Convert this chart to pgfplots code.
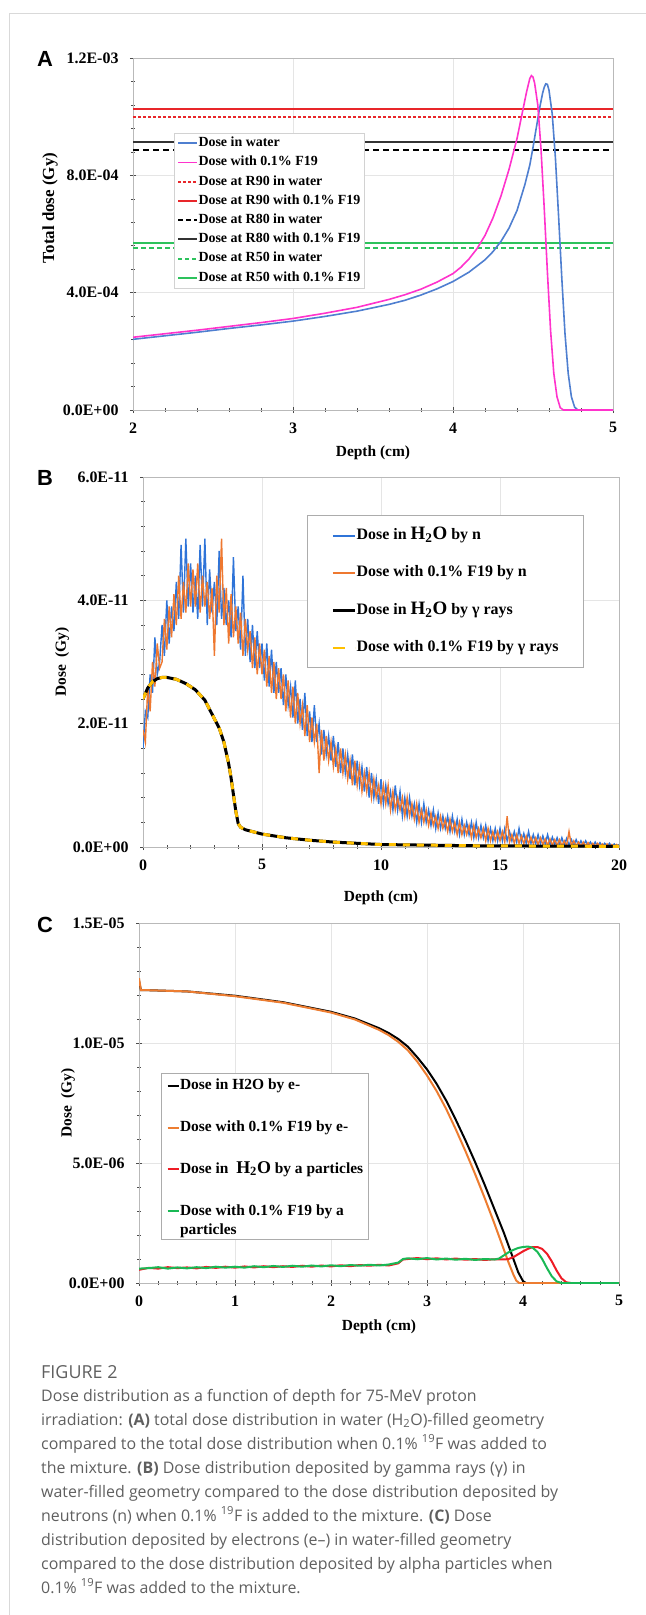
\documentclass[border=0pt]{standalone}
\usepackage{fontspec}
\setmainfont{Liberation Serif}
\newfontfamily\capfont{Open Sans}
\newfontfamily\panelfont{Liberation Sans}
\usepackage{pgfplots}
\pgfplotsset{compat=1.18}
\usepackage{pgfplotstable}

\definecolor{ablue}{HTML}{4F7FD0}
\definecolor{amag}{HTML}{FF33CC}
\definecolor{ared}{HTML}{E8262A}
\definecolor{agreen}{HTML}{2DC25C}
\definecolor{agrey}{HTML}{333333}
\definecolor{bblue}{HTML}{2F74D8}
\definecolor{borange}{HTML}{EE7830}
\definecolor{byellow}{HTML}{FFC000}
\definecolor{corange}{HTML}{ED7D31}
\definecolor{cred}{HTML}{EE1C25}
\definecolor{cgreen}{HTML}{19B955}
\definecolor{capgrey}{HTML}{5F5F5F}

\newcommand\fs[2]{\fontsize{#1}{#2}\selectfont}

% panel B: neutron dose, x in cm, dose in 1e-11 Gy (b = H2O, o = 0.1% F19)
\pgfplotstableread{
x b o
0.0 1.6 1.9
0.1 2.2 1.7
0.2 2.1 2.6
0.3 2.8 2.2
0.4 2.5 3.0
0.5 3.4 2.6
0.6 2.8 3.3
0.7 3.0 2.9
0.8 3.6 3.0
0.9 3.1 3.7
1.0 4.0 3.2
1.1 3.3 3.9
1.2 3.9 3.4
1.3 3.5 4.1
1.4 4.3 3.6
1.5 3.7 4.4
1.6 4.9 3.7
1.7 3.8 4.3
1.8 5.0 3.8
1.9 3.9 4.6
2.0 4.6 3.9
2.1 3.8 4.5
2.2 4.4 3.9
2.3 3.7 4.6
2.4 4.9 3.8
2.5 3.9 4.4
2.6 5.0 3.9
2.7 3.6 4.3
2.8 4.5 3.7
2.9 3.8 4.2
3.0 4.3 3.1
3.1 3.6 4.4
3.2 4.8 3.8
3.3 3.7 5.0
3.4 4.2 3.6
3.5 3.6 4.2
3.6 4.0 3.3
3.7 3.4 4.1
3.8 4.7 3.4
3.9 3.5 3.9
4.0 3.9 3.3
4.1 3.2 3.8
4.2 4.4 3.1
4.3 3.1 3.7
4.4 3.7 3.2
4.5 3.0 3.5
4.6 3.6 2.9
4.7 2.9 3.4
4.8 3.5 2.8
4.9 2.9 3.3
5.0 3.3 2.8
5.1 2.7 3.2
5.2 3.3 2.6
5.3 2.6 3.1
5.4 3.2 2.5
5.5 2.5 3.0
5.6 3.0 2.4
5.7 2.5 2.9
5.8 2.9 2.4
5.9 2.3 2.8
6.0 2.8 2.2
6.1 2.3 2.7
6.2 2.6 2.1
6.3 2.1 2.6
6.4 2.7 2.0
6.5 2.0 2.5
6.6 2.4 2.0
6.7 1.9 2.3
6.8 2.5 1.8
6.9 1.8 2.3
7.0 2.2 1.7
7.1 1.7 2.1
7.2 2.3 1.7
7.3 1.7 2.0
7.4 2.0 1.2
7.5 1.5 1.9
7.6 1.9 1.4
7.7 1.5 1.8
7.8 1.8 1.4
7.9 1.4 1.7
8.0 1.8 1.3
8.1 1.3 1.6
8.2 1.7 1.2
8.3 1.2 1.6
8.4 1.6 1.2
8.5 1.2 1.5
8.6 1.5 1.1
8.7 1.1 1.4
8.8 1.5 1.0
8.9 1.0 1.4
9.0 1.4 1.0
9.1 1.0 1.3
9.2 1.3 0.9
9.3 0.9 1.2
9.4 1.3 0.9
9.5 0.8 1.2
9.6 1.2 0.8
9.7 0.8 1.1
9.8 1.1 0.8
9.9 0.7 1.0
10.0 1.1 0.7
10.1 0.7 1.0
10.2 1.0 0.7
10.3 0.7 1.0
10.4 0.9 0.6
10.5 0.6 0.9
10.6 1.0 0.6
10.7 0.6 0.8
10.8 0.9 0.6
10.9 0.5 0.8
11.0 0.8 0.5
11.1 0.5 0.8
11.2 0.8 0.5
11.3 0.5 0.7
11.4 0.7 0.45
11.5 0.4 0.7
11.6 0.7 0.4
11.7 0.4 0.6
11.8 0.7 0.4
11.9 0.4 0.6
12.0 0.6 0.35
12.1 0.35 0.55
12.2 0.6 0.35
12.3 0.3 0.5
12.4 0.55 0.3
12.5 0.3 0.5
12.6 0.5 0.3
12.7 0.3 0.45
12.8 0.5 0.25
12.9 0.25 0.45
13.0 0.5 0.25
13.1 0.25 0.4
13.2 0.45 0.2
13.3 0.2 0.4
13.4 0.45 0.2
13.5 0.2 0.35
13.6 0.4 0.2
13.7 0.2 0.35
13.8 0.4 0.15
13.9 0.15 0.35
14.0 0.4 0.15
14.1 0.15 0.3
14.2 0.35 0.15
14.3 0.15 0.3
14.4 0.35 0.1
14.5 0.1 0.3
14.6 0.3 0.1
14.7 0.1 0.25
14.8 0.3 0.1
14.9 0.1 0.25
15.0 0.3 0.1
15.1 0.1 0.25
15.2 0.3 0.08
15.3 0.1 0.5
15.4 0.25 0.08
15.5 0.1 0.2
15.6 0.25 0.06
15.7 0.08 0.2
15.8 0.3 0.06
15.9 0.08 0.18
16.0 0.22 0.05
16.1 0.06 0.18
16.2 0.25 0.05
16.3 0.06 0.16
16.4 0.2 0.05
16.5 0.05 0.15
16.6 0.2 0.04
16.7 0.05 0.15
16.8 0.18 0.04
16.9 0.05 0.13
17.0 0.2 0.03
17.1 0.04 0.13
17.2 0.16 0.03
17.3 0.04 0.12
17.4 0.15 0.03
17.5 0.03 0.12
17.6 0.15 0.02
17.7 0.03 0.1
17.8 0.14 0.02
17.9 0.03 0.25
18.0 0.12 0.02
18.1 0.02 0.1
18.2 0.12 0.02
18.3 0.02 0.08
18.4 0.1 0.01
18.5 0.02 0.08
18.6 0.1 0.01
18.7 0.02 0.07
18.8 0.08 0.01
18.9 0.01 0.06
19.0 0.08 0.01
19.1 0.01 0.06
19.2 0.07 0.01
19.3 0.01 0.05
19.4 0.06 0.0
19.5 0.01 0.05
19.6 0.06 0.0
19.7 0.0 0.04
19.8 0.05 0.0
19.9 0.0 0.04
20.0 0.04 0.0
}\ntab

% panel B: gamma dose (same in both media), 1e-11 Gy
\pgfplotstableread{
x g
0.0 2.40
0.2 2.58
0.4 2.68
0.6 2.73
0.8 2.75
1.0 2.75
1.4 2.72
1.8 2.65
2.2 2.55
2.6 2.38
3.0 2.08
3.2 1.93
3.4 1.70
3.6 1.35
3.7 1.12
3.8 0.85
3.9 0.58
4.0 0.38
4.1 0.32
4.3 0.28
4.6 0.25
5.0 0.21
5.5 0.18
6.0 0.15
7.0 0.11
8.0 0.08
9.0 0.06
10 0.04
12 0.03
14 0.02
17 0.015
20 0.01
}\gtab

\pgfplotsset{
  panel/.style={
    scale only axis, anchor=north west,
    axis line style={draw=gray!55, line width=0.8bp},
    grid=major, major grid style={draw=gray!20, line width=0.8bp},
    xtick pos=bottom, ytick pos=left,
    tick align=center, major tick length=6bp, minor tick length=4bp,
    tick style={draw=gray!60!black, line width=0.6bp},
    minor x tick num=4, minor y tick num=4,
    tick label style={font=\bfseries\fs{16}{16}},
    xticklabel style={yshift=-6bp},
    yticklabel style={xshift=-8bp},
    /pgf/number format/assume math mode=true,
    legend cell align=left,
    xlabel style={font=\bfseries\fs{15.5}{16}, anchor=center},
    ylabel style={font=\bfseries\fs{15.5}{16}, anchor=center},
  },
  % legend sample for the two-line entry: line level with the first text line
  twoline/.style={legend image code/.code={\draw[##1] (0bp,8.5bp) -- (11bp,8.5bp); \path (0bp,-8.5bp);}},
}

\begin{document}
\begin{tikzpicture}
\path[use as bounding box] (0,0) rectangle (646bp,-1615bp);
\draw[gray!30, line width=1bp] (9bp,-1615bp) -- (9bp,-13bp) -- (646bp,-13bp);

\node[font=\panelfont\bfseries\fs{22}{22}] at (45bp,-59bp) {A};
\node[font=\panelfont\bfseries\fs{22}{22}] at (45bp,-478bp) {B};
\node[font=\panelfont\bfseries\fs{22}{22}] at (45bp,-925bp) {C};

% ---------- A ----------
\begin{axis}[panel, at={(133bp,-58bp)}, width=480bp, height=352bp,
  xmin=2, xmax=5, ymin=0, ymax=12, xtick={2,3,4,5},
  ytick={0,4,8,12}, yticklabels={0.0E+00,4.0E-04,8.0E-04,1.2E-03},
  xlabel={Depth (cm)}, ylabel={Total dose (Gy)},
  xlabel style={at={(axis description cs:0.5,-0.122)}},
  ylabel style={at={(axis description cs:-0.173,0.574)}, font=\bfseries\fs{17}{17}},
  legend style={at={(0.085,0.787)}, anchor=north west, draw=gray!35, fill=white,
    inner xsep=3bp, inner ysep=1bp, row sep=1.3bp, font=\bfseries\fs{14}{17},
    nodes={inner sep=0.5bp, text depth=}},
  legend image code/.code={\draw[#1] (0bp,0bp) -- (19bp,0bp);},
]
\addplot[forget plot, ared, line width=2bp, dash pattern=on 2.5bp off 2.5bp] coordinates {(2,10.0) (5,10.0)};
\addplot[forget plot, ared, line width=2bp] coordinates {(2,10.26) (5,10.26)};
\addplot[forget plot, black, line width=2bp, dash pattern=on 6bp off 4bp] coordinates {(2,8.85) (5,8.85)};
\addplot[forget plot, agrey, line width=2bp] coordinates {(2,9.12) (5,9.12)};
\addplot[forget plot, agreen, line width=2bp, dash pattern=on 5bp off 3bp] coordinates {(2,5.52) (5,5.52)};
\addplot[forget plot, agreen, line width=2bp] coordinates {(2,5.69) (5,5.69)};
\addplot[forget plot, ablue, line width=1.6bp] coordinates {
 (2.0,2.41)(2.2,2.53)(2.4,2.65)(2.6,2.78)(2.8,2.90)(3.0,3.03)(3.2,3.19)(3.4,3.37)
 (3.6,3.60)(3.7,3.74)(3.8,3.92)(3.9,4.13)(4.0,4.38)(4.1,4.70)(4.2,5.12)(4.25,5.40)
 (4.3,5.75)(4.35,6.20)(4.4,6.80)(4.45,7.70)(4.48,8.35)(4.5,8.95)(4.52,9.6)(4.54,10.25)
 (4.56,10.8)(4.57,11.0)(4.58,11.12)(4.59,11.1)(4.60,10.9)(4.62,10.1)(4.64,8.6)(4.66,6.6)
 (4.68,4.5)(4.70,2.6)(4.72,1.25)(4.74,0.45)(4.76,0.1)(4.78,0)(5,0)};
\addplot[forget plot, amag, line width=1.6bp] coordinates {
 (2.0,2.48)(2.2,2.60)(2.4,2.72)(2.6,2.85)(2.8,2.98)(3.0,3.12)(3.2,3.30)(3.4,3.50)
 (3.6,3.77)(3.7,3.93)(3.8,4.12)(3.9,4.36)(4.0,4.65)(4.05,4.87)(4.1,5.15)(4.15,5.50)
 (4.2,5.95)(4.25,6.55)(4.3,7.30)(4.35,8.20)(4.4,9.25)(4.43,10.05)(4.46,10.85)
 (4.48,11.3)(4.49,11.4)(4.50,11.35)(4.51,11.15)(4.53,10.4)(4.55,8.9)(4.57,6.9)
 (4.59,4.7)(4.61,2.7)(4.63,1.25)(4.65,0.45)(4.67,0.08)(4.69,0)(5,0)};
\addlegendimage{ablue, line width=1.6bp}\addlegendentry{\strut Dose in water}
\addlegendimage{amag, line width=1.6bp}\addlegendentry{\strut Dose with 0.1\% F19}
\addlegendimage{ared, line width=2bp, dash pattern=on 2.5bp off 2.5bp}\addlegendentry{\strut Dose at R90 in water}
\addlegendimage{ared, line width=2bp}\addlegendentry{\strut Dose at R90 with 0.1\% F19}
\addlegendimage{black, line width=2bp, dash pattern=on 5bp off 3bp}\addlegendentry{\strut Dose at R80 in water}
\addlegendimage{agrey, line width=2bp}\addlegendentry{\strut Dose at R80 with 0.1\% F19}
\addlegendimage{agreen, line width=2bp, dash pattern=on 4bp off 3bp}\addlegendentry{\strut Dose at R50 in water}
\addlegendimage{agreen, line width=2bp}\addlegendentry{\strut Dose at R50 with 0.1\% F19}
\end{axis}

% ---------- B ----------
\begin{axis}[panel, at={(143bp,-477bp)}, width=476bp, height=370bp,
  xmin=0, xmax=20, ymin=0, ymax=6, xtick={0,5,10,15,20},
  ytick={0,2,4,6}, yticklabels={0.0E+00,2.0E-11,4.0E-11,6.0E-11},
  xlabel={Depth (cm)}, ylabel={Dose\ \ (Gy)},
  xlabel style={at={(axis description cs:0.5,-0.138)}},
  ylabel style={at={(axis description cs:-0.170,0.5)}},
  legend style={at={(0.345,0.897)}, anchor=north west, draw=gray!65, line width=1bp, fill=white,
    inner xsep=24bp, inner ysep=10bp, row sep=17.5bp, font=\bfseries\fs{16}{19},
    nodes={inner sep=0.5bp, text depth=}},
  legend image code/.code={\draw[#1] (0bp,0bp) -- (22bp,0bp);},
]
\addplot[forget plot, bblue, line width=1.4bp] table[x=x, y=b] {\ntab};
\addplot[forget plot, borange, line width=1.4bp] table[x=x, y=o] {\ntab};
\addplot[forget plot, black, line width=3bp] table[x=x, y=g] {\gtab};
\addplot[forget plot, byellow, line width=3bp, dash pattern=on 7bp off 7bp] table[x=x, y=g] {\gtab};
\addlegendimage{bblue, line width=2bp}\addlegendentry{\strut Dose in {\fs{19}{19}H\textsubscript{2}O} by n}
\addlegendimage{borange, line width=2bp}\addlegendentry{\strut Dose with 0.1\% F19 by n}
\addlegendimage{black, line width=2.5bp}\addlegendentry{\strut Dose in {\fs{19}{19}H\textsubscript{2}O} by γ rays}
\addlegendimage{byellow, line width=2.5bp, dash pattern=on 12bp off 10bp}\addlegendentry{\strut Dose with 0.1\% F19 by γ rays}
\end{axis}

% ---------- C ----------
\begin{axis}[panel, at={(139bp,-923bp)}, width=480bp, height=360bp,
  xmin=0, xmax=5, ymin=0, ymax=15, xtick={0,1,2,3,4,5},
  ytick={0,5,10,15}, yticklabels={0.0E+00,5.0E-06,1.0E-05,1.5E-05},
  xlabel={Depth (cm)}, ylabel={Dose\ \ (Gy)},
  xlabel style={at={(axis description cs:0.5,-0.122)}},
  ylabel style={at={(axis description cs:-0.148,0.5)}},
  legend style={at={(0.046,0.583)}, anchor=north west, draw=gray!65, line width=1bp, fill=white,
    inner xsep=5bp, inner ysep=2bp, row sep=22bp, font=\bfseries\fs{15.5}{19},
    nodes={inner sep=0.5bp, text depth=}},
  legend image code/.code={\draw[#1] (0bp,0bp) -- (11bp,0bp);},
]
\addplot[forget plot, black, line width=2bp] coordinates {
 (0,12.6)(0.02,12.2)(0.1,12.2)(0.5,12.15)(1.0,11.97)(1.5,11.7)(2.0,11.3)(2.25,11.02)
 (2.5,10.62)(2.6,10.42)(2.7,10.17)(2.8,9.85)(2.9,9.4)(3.0,8.9)(3.1,8.3)(3.2,7.6)
 (3.3,6.8)(3.4,5.95)(3.5,5.05)(3.6,4.1)(3.7,3.1)(3.8,2.1)(3.85,1.55)(3.9,1.0)
 (3.95,0.45)(4.0,0.08)(4.03,0)(5,0)};
\addplot[forget plot, corange, line width=2bp] coordinates {
 (0,12.7)(0.02,12.2)(0.1,12.2)(0.5,12.15)(1.0,11.95)(1.5,11.68)(2.0,11.27)(2.25,10.98)
 (2.5,10.55)(2.6,10.33)(2.7,10.05)(2.8,9.7)(2.9,9.22)(3.0,8.65)(3.1,8.0)(3.2,7.25)
 (3.3,6.4)(3.4,5.5)(3.5,4.55)(3.6,3.55)(3.7,2.5)(3.75,1.95)(3.8,1.4)(3.85,0.85)
 (3.9,0.35)(3.93,0.1)(3.96,0)(5,0)};
\addplot[forget plot, cred, line width=2bp] coordinates {
 (0.0,0.55)(0.1,0.63)(0.2,0.6)(0.3,0.66)(0.4,0.62)(0.5,0.65)(0.6,0.61)(0.7,0.67)
 (0.8,0.63)(0.9,0.68)(1.0,0.64)(1.1,0.69)(1.2,0.65)(1.3,0.7)(1.4,0.66)(1.5,0.7)
 (1.6,0.67)(1.7,0.72)(1.8,0.68)(1.9,0.73)(2.0,0.69)(2.1,0.74)(2.2,0.7)(2.3,0.75)
 (2.4,0.72)(2.5,0.76)(2.6,0.73)(2.7,0.82)(2.75,0.98)(2.8,1.0)(2.9,1.04)(3.0,0.99)
 (3.1,1.03)(3.2,0.98)(3.3,1.02)(3.4,0.97)(3.5,1.0)(3.6,0.96)(3.7,0.99)(3.8,0.98)
 (3.85,1.0)(3.9,1.08)(3.95,1.2)(4.0,1.32)(4.05,1.42)(4.1,1.5)(4.15,1.5)(4.2,1.42)
 (4.25,1.22)(4.3,0.9)(4.35,0.52)(4.4,0.2)(4.45,0.03)(4.5,0)(5,0)};
\addplot[forget plot, cgreen, line width=2bp] coordinates {
 (0.0,0.6)(0.1,0.62)(0.2,0.66)(0.3,0.6)(0.4,0.65)(0.5,0.61)(0.6,0.66)(0.7,0.62)
 (0.8,0.68)(0.9,0.64)(1.0,0.68)(1.1,0.64)(1.2,0.7)(1.3,0.66)(1.4,0.71)(1.5,0.67)
 (1.6,0.72)(1.7,0.68)(1.8,0.73)(1.9,0.69)(2.0,0.74)(2.1,0.7)(2.2,0.75)(2.3,0.72)
 (2.4,0.76)(2.5,0.73)(2.6,0.77)(2.7,0.85)(2.75,1.0)(2.8,1.03)(2.9,0.99)(3.0,1.04)
 (3.1,0.98)(3.2,1.02)(3.3,0.97)(3.4,1.01)(3.5,0.96)(3.6,1.0)(3.7,0.98)(3.75,1.02)
 (3.8,1.15)(3.85,1.28)(3.9,1.38)(3.95,1.46)(4.0,1.5)(4.05,1.52)(4.1,1.47)(4.15,1.3)
 (4.2,1.0)(4.25,0.62)(4.3,0.28)(4.35,0.07)(4.4,0)(5,0)};
\addlegendimage{black, line width=2bp}\addlegendentry{\strut Dose in H2O by e-}
\addlegendimage{corange, line width=2bp}\addlegendentry{\strut Dose with 0.1\% F19 by e-}
\addlegendimage{cred, line width=2bp}\addlegendentry{\strut Dose in\ \ {\fs{18}{18}H\textsubscript{2}O} by a particles}
\addlegendimage{cgreen, line width=2bp, twoline}
\addlegendentry{\strut\rlap{\raisebox{-19bp}{particles}}Dose with 0.1\% F19 by a}
\end{axis}

% ---------- caption ----------
\node[anchor=base west, inner sep=0, font=\capfont\fs{18}{20}, text=capgrey] at (41bp,-1378bp) {FIGURE 2};
\begin{scope}[every node/.style={anchor=base west, inner sep=0, font=\capfont\fs{16}{20}, text=capgrey}]
\node at (41bp,-1401bp) {Dose distribution as a function of depth for 75-MeV proton};
\node at (41bp,-1425bp) {irradiation: \textbf{(A)} total dose distribution in water (H\textsubscript{2}O)-filled geometry};
\node at (41bp,-1449bp) {compared to the total dose distribution when 0.1\% \textsuperscript{19}F was added to};
\node at (41bp,-1473bp) {the mixture. \textbf{(B)} Dose distribution deposited by gamma rays (γ) in};
\node at (41bp,-1497bp) {water-filled geometry compared to the dose distribution deposited by};
\node at (41bp,-1521bp) {neutrons (n) when 0.1\% \textsuperscript{19}F is added to the mixture. \textbf{(C)} Dose};
\node at (41bp,-1545bp) {distribution deposited by electrons (e–) in water-filled geometry};
\node at (41bp,-1569bp) {compared to the dose distribution deposited by alpha particles when};
\node at (41bp,-1593bp) {0.1\% \textsuperscript{19}F was added to the mixture.};
\end{scope}
\end{tikzpicture}
\end{document}
